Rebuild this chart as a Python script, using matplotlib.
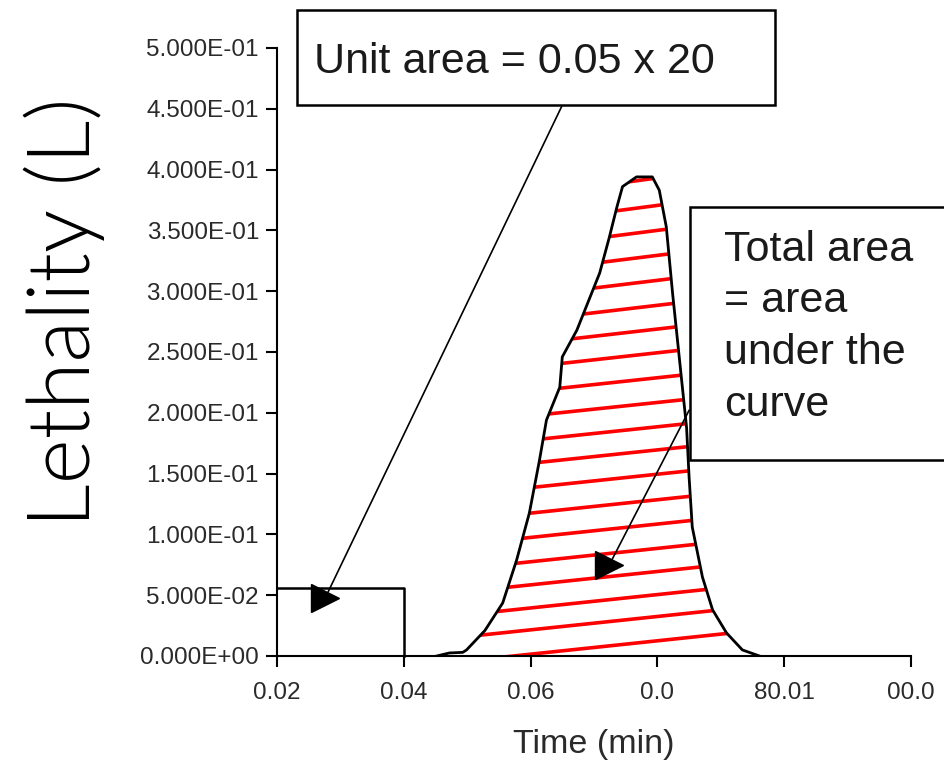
import numpy as np
import matplotlib.pyplot as plt
from matplotlib.patches import Rectangle, Polygon

plt.rcParams["font.family"] = ["Liberation Sans", "DejaVu Sans"]

# lethality curve
time = [0.0452, 0.0472, 0.0493, 0.0499, 0.0528, 0.0556, 0.0578, 0.0598, 0.0614,
        0.0625, 0.0646, 0.0650, 0.0673, 0.0709, 0.0724, 0.0736, 0.0745, 0.0767,
        0.0792, 0.0803, 0.0814, 0.0824, 0.0835, 0.0846, 0.0850, 0.0855, 0.0871,
        0.0887, 0.0909, 0.0934, 0.0961]
lethality = [0.0, 0.0025, 0.003, 0.005, 0.021, 0.0436, 0.079, 0.1175, 0.161,
             0.194, 0.221, 0.246, 0.268, 0.315, 0.344, 0.369, 0.386, 0.394,
             0.394, 0.383, 0.353, 0.298, 0.243, 0.188, 0.147, 0.106, 0.065,
             0.038, 0.019, 0.005, 0.0]

# unit area box
unit_x = [0.02, 0.04]
unit_h = 0.056

# arrow heads (triangles) and where the arrows start
tri_x = [0.0276, 0.0724]
tri_y = [0.0477, 0.0748]
arrow_start_x = [0.0650, 0.0850]
arrow_start_y = [0.453, 0.202]

# hand drawn hatch strokes: height where each stroke meets x=0.05
hatch_levels = [-0.004, 0.016, 0.034, 0.053, 0.072, 0.092, 0.112, 0.133, 0.153,
                0.172, 0.192, 0.212, 0.232, 0.251, 0.270, 0.290, 0.310, 0.330,
                0.350, 0.372]

xticks = [0.02, 0.04, 0.06, 0.08, 0.10, 0.12]
xtick_labels = ["0.02", "0.04", "0.06", "0.0", "80.01", "00.0"]
yticks = [0.0, 0.05, 0.10, 0.15, 0.20, 0.25, 0.30, 0.35, 0.40, 0.45, 0.50]
ytick_labels = ["0.000E+00", "5.000E-02", "1.000E-01", "1.500E-01", "2.000E-01",
                "2.500E-01", "3.000E-01", "3.500E-01", "4.000E-01", "4.500E-01",
                "5.000E-01"]

W, H = 944, 765
fig = plt.figure(figsize=(W / 100, H / 100), dpi=100)
ax = fig.add_axes([277 / W, 1 - 656 / H, (911 - 277) / W, (656 - 48) / H])
ax.set_xlim(0.02, 0.12)
ax.set_ylim(0, 0.5)

# red strokes clipped to the area under the curve
poly = Polygon(np.column_stack([time, lethality]), closed=True,
               transform=ax.transData, facecolor="none", edgecolor="none")
ax.add_patch(poly)
xs = np.array([0.04, 0.10])
for lv in hatch_levels:
    # gentle upward stroke, steeper near the top like the hand drawn ones
    slope = 0.55 + 0.9 * max(lv - 0.2, 0)
    ln, = ax.plot(xs, lv + slope * (xs - 0.05), color="#ff0000", lw=2.6,
                  solid_capstyle="round")
    ln.set_clip_path(poly)

ax.plot(time, lethality, color="black", lw=2.0)

# unit area rectangle
ax.plot([unit_x[0], unit_x[1], unit_x[1]], [unit_h, unit_h, 0], color="black",
        lw=1.8, clip_on=False)

# arrows and triangle heads
for sx, sy, tx, ty in zip(arrow_start_x, arrow_start_y, tri_x, tri_y):
    ax.plot([sx, tx], [sy, ty], color="black", lw=1.2, clip_on=False)
ax.plot(tri_x, tri_y, ">", color="black", ms=20, clip_on=False)

for s in ["top", "right"]:
    ax.spines[s].set_visible(False)
for s in ["left", "bottom"]:
    ax.spines[s].set_linewidth(1.5)
ax.set_xticks(xticks, xtick_labels)
ax.set_yticks(yticks, ytick_labels)
ax.tick_params(direction="out", length=8, width=1.5, labelsize=17.5,
               labelcolor="#2a2a2a")
ax.tick_params(axis="x", pad=11)
ax.tick_params(axis="y", pad=5)
ax.set_xlabel("Time (min)", fontsize=24.5, color="#2a2a2a", labelpad=18)

# text boxes, placed in figure pixels
def fx(px):
    return px / W


def fy(py):
    return 1 - py / H


fig.add_artist(Rectangle((fx(297), fy(105)), fx(775) - fx(297), fy(10) - fy(105),
                         transform=fig.transFigure, facecolor="white",
                         edgecolor="black", lw=1.8))
fig.text(fx(314), fy(62), "Unit area = 0.05 x 20", fontsize=31, va="center",
         color="#1a1a1a")

fig.add_artist(Rectangle((fx(690), fy(460)), fx(960) - fx(690), fy(207) - fy(460),
                         transform=fig.transFigure, facecolor="white",
                         edgecolor="black", lw=1.8))
for i, line in enumerate(["Total area", "= area", "under the", "curve"]):
    fig.text(fx(724), fy(250 + 51.5 * i), line, fontsize=31, va="center",
             color="#1a1a1a")

# handwritten axis title
fig.text(fx(64), fy(312), "Lethality (L)", rotation=90, fontsize=62,
         va="center", ha="center", family=["Lato", "DejaVu Sans"],
         fontweight=300, color="black")

fig.savefig("out.png", dpi=100)
